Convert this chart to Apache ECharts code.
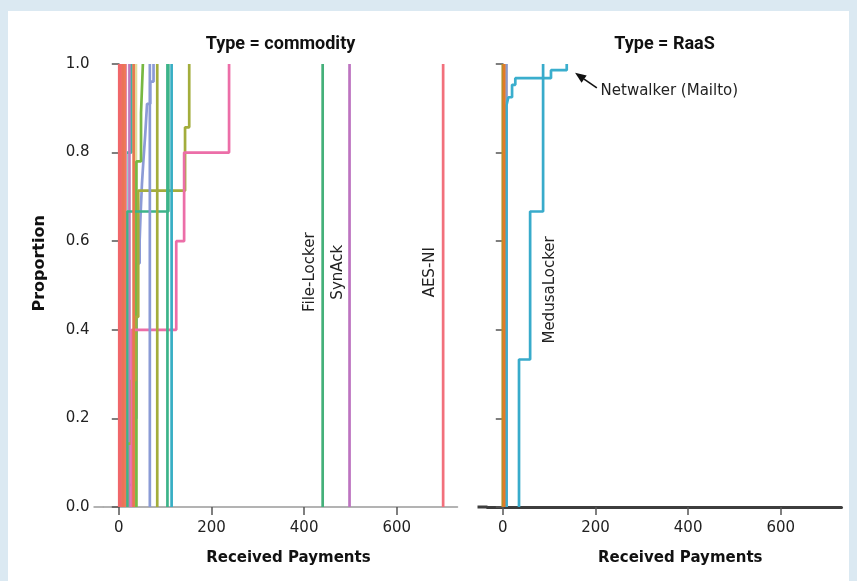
<!DOCTYPE html>
<html>
<head>
<meta charset="utf-8">
<script src="https://cdn.jsdelivr.net/npm/echarts@6/dist/echarts.min.js"></script>
<style>
  html, body { margin: 0; padding: 0; background: #dbe9f2; }
  #card { position: absolute; left: 8px; top: 11px; width: 841px; height: 570px; background: #ffffff; }
  #chart { position: absolute; left: 0; top: 0; width: 857px; height: 581px; }
</style>
</head>
<body>
<div id="card"></div>
<div id="chart"></div>
<script>
// ECDF step points per family: payment amount (X) and cumulative proportion reached there (P)
// commodity families
const com01X = [1],    com01P = [1];
const com02X = [9],    com02P = [1];
const com03X = [16, 27], com03P = [0.8, 1];
const com04X = [23],   com04P = [1];
const com05X = [32],   com05P = [1];
const com06X = [37],   com06P = [1];
const com07X = [38, 48, 52], com07P = [0.78, 0.89, 1];
const com08X = [20, 30, 38, 45, 47, 50, 53, 57, 61, 68, 75];
const com08P = [0.05, 0.2, 0.55, 0.6, 0.66, 0.73, 0.78, 0.84, 0.91, 0.96, 1];
const com09X = [67],   com09P = [1];
const com10X = [83],   com10P = [1];
const com11X = [18, 27, 36, 42, 143, 152];
const com11P = [0.143, 0.286, 0.429, 0.714, 0.857, 1];
const com12X = [28, 124, 141, 238], com12P = [0.4, 0.6, 0.8, 1];
const com13X = [105],  com13P = [1];
const com14X = [18, 107], com14P = [0.667, 1];
const com15X = [114],  com15P = [1];
const com16X = [4],    com16P = [1];
const com17X = [13],   com17P = [1];
const com18X = [15],   com18P = [1];
const fileLockerX = [440], fileLockerP = [1];
const synAckX = [498],     synAckP = [1];
const aesNiX = [700],      aesNiP = [1];

// RaaS families
const raas01X = [0],  raas01P = [1];
const raas02X = [3],  raas02P = [1];
const raas03X = [8],  raas03P = [1];
const netwalkerX = [8, 12, 20, 27, 104, 138];
const netwalkerP = [0.907, 0.925, 0.953, 0.968, 0.986, 1];
const medusaX = [35, 59, 87], medusaP = [0.333, 0.667, 1];

// axis ticks
const xTicks = [0, 200, 400, 600];
const yTicks = [0, 0.2, 0.4, 0.6, 0.8, 1.0];

// panel titles and axis titles
const panelTitles = ['Type = commodity', 'Type = RaaS'];
const xAxisTitle = 'Received Payments';
const yAxisTitle = 'Proportion';

// line colours, drawn in this order (later on top)
const leftLines = [
  [com03X, com03P, '#3cb3a0'],
  [com06X, com06P, '#e2dc9a'],
  [com08X, com08P, '#8c9bd6'],
  [com07X, com07P, '#77b843'],
  [com18X, com18P, '#e58bbd'],
  [com04X, com04P, '#c07bbd'],
  [com11X, com11P, '#a3ad3c'],
  [com12X, com12P, '#ec6ea8'],
  [com14X, com14P, '#3db48a'],
  [com16X, com16P, '#f26b6b'],
  [com01X, com01P, '#f0676a'],
  [com17X, com17P, '#ee7a5a'],
  [com02X, com02P, '#ea7358'],
  [com05X, com05P, '#e7794e'],
  [com09X, com09P, '#8a9bd6'],
  [com10X, com10P, '#a3ad3c'],
  [com13X, com13P, '#3db48a'],
  [com15X, com15P, '#37aec4'],
  [fileLockerX, fileLockerP, '#45b07a'],
  [synAckX, synAckP, '#bd74c0'],
  [aesNiX, aesNiP, '#f2707c']
];
const rightLines = [
  [raas03X, raas03P, '#8b98c6'],
  [netwalkerX, netwalkerP, '#3aaecd'],
  [medusaX, medusaP, '#38abcb'],
  [raas01X, raas01P, '#b3922b'],
  [raas02X, raas02P, '#e27b27']
];

const xMin = -33, xMax = 731;
const FONT = '"DejaVu Sans", Roboto, sans-serif';
const TITLE_FONT = 'Roboto, "DejaVu Sans", sans-serif';

function ecdfPoints(xs, ps) {
  const pts = [[xs[0], 0]];
  xs.forEach((x, i) => pts.push([x, ps[i]]));
  return pts;
}

function mkSeries(lines, idx) {
  return lines.map(([xs, ps, color]) => ({
    type: 'line',
    xAxisIndex: idx,
    yAxisIndex: idx,
    step: 'end',
    showSymbol: false,
    symbol: 'none',
    animation: false,
    silent: true,
    clip: false,
    lineStyle: { color: color, width: 2.7 },
    data: ecdfPoints(xs, ps)
  }));
}

function mkX(idx, lineColor, lineWidth) {
  return {
    type: 'value', gridIndex: idx, min: xMin, max: xMax,
    splitLine: { show: false },
    axisLine: { show: true, onZero: false, lineStyle: { color: lineColor, width: lineWidth } },
    axisTick: { show: true, length: 8, customValues: xTicks, lineStyle: { color: '#555', width: 1.5 } },
    axisLabel: { customValues: xTicks, margin: 14, color: '#222', fontSize: 15, fontFamily: FONT }
  };
}

function mkY(idx, showLabels) {
  return {
    type: 'value', gridIndex: idx, min: 0, max: 1, interval: 0.2,
    splitLine: { show: false },
    axisLine: { show: true, lineStyle: { color: '#555', width: 1.5 } },
    axisTick: { show: true, length: 7, lineStyle: { color: '#555', width: 1.5 } },
    axisLabel: {
      show: showLabels, margin: 14, color: '#222', fontSize: 15, fontFamily: FONT,
      formatter: v => v.toFixed(1)
    }
  };
}

const chart = echarts.init(document.getElementById('chart'), null, { renderer: 'canvas' });
chart.setOption({
  backgroundColor: 'transparent',
  animation: false,
  grid: [
    { left: 103.5, top: 64, width: 354, height: 443 },
    { left: 487.5, top: 64, width: 354, height: 443 }
  ],
  xAxis: [mkX(0, '#9a9a9a', 1.5), mkX(1, '#3d3d3d', 3)],
  yAxis: [mkY(0, true), mkY(1, false)],
  series: mkSeries(leftLines, 0).concat(mkSeries(rightLines, 1))
});

// texts and annotations placed in data coordinates
function px(grid, pt) { return chart.convertToPixel({ gridIndex: grid }, pt); }

function vText(grid, pt, text) {
  const p = px(grid, pt);
  return {
    type: 'text', x: p[0], y: p[1], rotation: Math.PI / 2,
    style: { text: text, fill: '#222', font: '15px ' + FONT, align: 'center', verticalAlign: 'middle' }
  };
}

const midX = (xMin + xMax) / 2;
const g = [];

// x-axis baselines run a little past the left spine
[[0, '#9a9a9a', 1.5], [1, '#3d3d3d', 3]].forEach(([i, c, w]) => {
  const p = px(i, [xMin, 0]);
  g.push({ type: 'line', shape: { x1: p[0] - 10, y1: p[1], x2: p[0], y2: p[1] },
    style: { stroke: c, lineWidth: w } });
});

panelTitles.forEach((t, i) => {
  const p = px(i, [midX, 1]);
  g.push({ type: 'text', x: p[0], y: 44,
    style: { text: t, fill: '#111', font: 'bold 18px ' + TITLE_FONT, align: 'center', verticalAlign: 'middle' } });
});
[0, 1].forEach(i => {
  const p = px(i, [midX + 17 * (i + 1), 0]);
  g.push({ type: 'text', x: p[0], y: 558,
    style: { text: xAxisTitle, fill: '#111', font: 'bold 15px ' + FONT, align: 'center', verticalAlign: 'middle' } });
});
const yl = px(0, [xMin, 0.55]);
g.push({ type: 'text', x: 40, y: yl[1], rotation: Math.PI / 2,
  style: { text: yAxisTitle, fill: '#111', font: 'bold 16px ' + FONT, align: 'center', verticalAlign: 'middle' } });

g.push(vText(0, [413, 0.53], 'File-Locker'));
g.push(vText(0, [474, 0.53], 'SynAck'));
g.push(vText(0, [672, 0.53], 'AES-NI'));
g.push(vText(1, [102, 0.49], 'MedusaLocker'));

// Netwalker (Mailto) callout with arrow
const nt = px(1, [211, 0.939]);
g.push({ type: 'text', x: nt[0], y: nt[1],
  style: { text: 'Netwalker (Mailto)', fill: '#222', font: '15px ' + FONT, align: 'left', verticalAlign: 'middle' } });
const tail = px(1, [203, 0.946]);
const tip = px(1, [156, 0.98]);
const ang = Math.atan2(tip[1] - tail[1], tip[0] - tail[0]);
const hl = 11, hw = 4.5;
const bx = tip[0] - hl * Math.cos(ang), by = tip[1] - hl * Math.sin(ang);
g.push({ type: 'line', shape: { x1: tail[0], y1: tail[1], x2: bx, y2: by },
  style: { stroke: '#111', lineWidth: 1.6 } });
g.push({ type: 'polygon', shape: { points: [
  [tip[0], tip[1]],
  [bx + hw * Math.sin(ang), by - hw * Math.cos(ang)],
  [bx - hw * Math.sin(ang), by + hw * Math.cos(ang)]
] }, style: { fill: '#111' } });

chart.setOption({ graphic: g });
</script>
</body>
</html>
